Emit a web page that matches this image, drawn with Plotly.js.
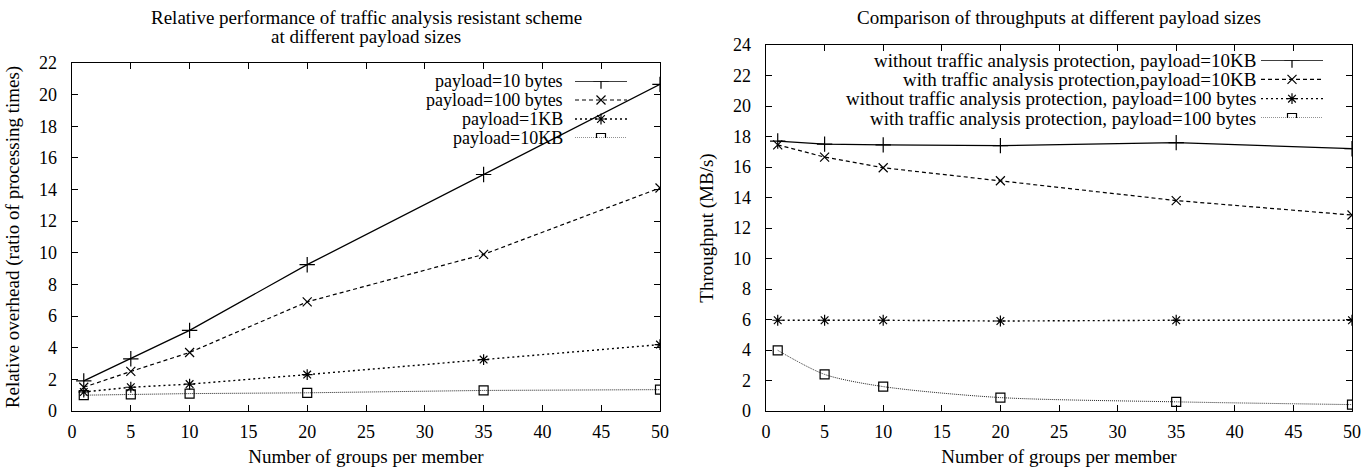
<!DOCTYPE html>
<html>
<head>
<meta charset="utf-8">
<script src="https://cdn.plot.ly/plotly-3.0.1.min.js"></script>
<style>html,body{margin:0;padding:0;background:#fff;}#chart{width:1369px;height:469px;}</style>
</head>
<body>
<div id="chart"></div>
<script>
// ---- data ----
const groupsPerMember = [1, 5, 10, 20, 35, 50];

// left chart: relative overhead (ratio of processing times)
const overhead10B  = [1.9, 3.3, 5.1, 9.25, 14.95, 20.65];
const overhead100B = [1.5, 2.5, 3.7, 6.9, 9.9, 14.1];
const overhead1KB  = [1.2, 1.5, 1.7, 2.3, 3.25, 4.2];
const overhead10KB = [1.0, 1.05, 1.1, 1.15, 1.3, 1.35];
const leftNames = ["payload=10 bytes", "payload=100 bytes", "payload=1KB", "payload=10KB"];

// right chart: throughput (MB/s)
const thrNoProt10KB = [17.7, 17.5, 17.45, 17.4, 17.6, 17.2];
const thrProt10KB   = [17.45, 16.65, 15.95, 15.1, 13.8, 12.85];
const thrNoProt100B = [5.95, 5.95, 5.95, 5.9, 5.95, 5.95];
const thrProt100B   = [3.98, 2.4, 1.6, 0.88, 0.6, 0.42];
const rightNames = [
  "without traffic analysis protection, payload=10KB",
  "with traffic analysis protection,payload=10KB",
  "without traffic analysis protection, payload=100 bytes",
  "with traffic analysis protection, payload=100 bytes"
];

const xTickVals = [0, 5, 10, 15, 20, 25, 30, 35, 40, 45, 50];

const FONT = '"Liberation Serif", "Times New Roman", serif';
const styles = [
  {dash: 'solid',   width: 1.3, color: '#000', symbol: 'cross-thin-open', size: 11},
  {dash: '4px,3px', width: 1.2, color: '#000', symbol: 'x-thin-open',     size: 9},
  {dash: '2px,3px', width: 1.4, color: '#000', symbol: 'asterisk-open',   size: 9},
  {dash: '1px,1px', width: 1.0, color: '#222', symbol: 'square-open',     size: 9}
];

function mk(y, name, s, xa, ya, shape) {
  return {
    x: groupsPerMember, y: y, name: name, type: 'scatter', mode: 'lines+markers',
    xaxis: xa, yaxis: ya, showlegend: false, hoverinfo: 'skip',
    line: {color: s.color, width: s.width, dash: s.dash, shape: shape || 'linear', smoothing: 0.8},
    marker: {symbol: s.symbol, size: s.size, color: '#000', line: {color: '#000', width: 1.2}}
  };
}

// key samples (gnuplot-style key: text right-aligned, sample on the right)
function keyLine(i, s, xa, ya) {
  return {
    x: [0, 1], y: [i, i], type: 'scatter', mode: 'lines',
    xaxis: xa, yaxis: ya, showlegend: false, hoverinfo: 'skip',
    line: {color: s.color, width: s.width, dash: s.dash}
  };
}
function keyMarker(i, s, xa, ya) {
  return {
    x: [0.5], y: [i], type: 'scatter', mode: 'markers',
    xaxis: xa, yaxis: ya, showlegend: false, hoverinfo: 'skip',
    marker: {symbol: s.symbol, size: s.size, color: '#000', line: {color: '#000', width: 1.2}}
  };
}

const traces = [
  mk(overhead10B,  leftNames[0], styles[0], 'x', 'y'),
  mk(overhead100B, leftNames[1], styles[1], 'x', 'y'),
  mk(overhead1KB,  leftNames[2], styles[2], 'x', 'y'),
  mk(overhead10KB, leftNames[3], styles[3], 'x', 'y'),
  mk(thrNoProt10KB, rightNames[0], styles[0], 'x2', 'y2'),
  mk(thrProt10KB,   rightNames[1], styles[1], 'x2', 'y2'),
  mk(thrNoProt100B, rightNames[2], styles[2], 'x2', 'y2'),
  mk(thrProt100B,   rightNames[3], styles[3], 'x2', 'y2', 'spline')
];
leftNames.forEach((n, i) => { traces.push(keyLine(i, styles[i], 'x3', 'y3')); traces.push(keyMarker(i, styles[i], 'x3', 'y3')); });
rightNames.forEach((n, i) => { traces.push(keyLine(i, styles[i], 'x4', 'y4')); traces.push(keyMarker(i, styles[i], 'x4', 'y4')); });

const W = 1369, H = 469;
function px(x) { return x / W; }
function py(y) { return (H - y) / H; }

const axisCommon = {
  showline: true, linecolor: '#000', linewidth: 1.4, mirror: 'allticks',
  ticks: 'inside', ticklen: 6, tickwidth: 1, tickcolor: '#000',
  showgrid: false, zeroline: false,
  tickfont: {family: FONT, size: 18, color: '#000'}
};
const hiddenAxis = {visible: false, showgrid: false, zeroline: false, fixedrange: true};

const layout = {
  width: W, height: H,
  margin: {l: 0, r: 0, t: 0, b: 0},
  paper_bgcolor: '#fff', plot_bgcolor: 'rgba(0,0,0,0)',
  font: {family: FONT, size: 19, color: '#000'},
  showlegend: false,
  xaxis: Object.assign({}, axisCommon, {
    domain: [px(72), px(660)], range: [0, 50], tickvals: xTickVals, anchor: 'y',
    ticklabelstandoff: 4,
    title: {text: 'Number of groups per member', font: {family: FONT, size: 19}, standoff: 8}
  }),
  yaxis: Object.assign({}, axisCommon, {
    domain: [py(411), py(63)], range: [0, 22], dtick: 2, tick0: 0, anchor: 'x',
    ticklabelstandoff: 10,
    title: {text: 'Relative overhead (ratio of processing times)', font: {family: FONT, size: 19}, standoff: 14}
  }),
  xaxis2: Object.assign({}, axisCommon, {
    domain: [px(766), px(1352)], range: [0, 50], tickvals: xTickVals, anchor: 'y2',
    ticklabelstandoff: 4,
    title: {text: 'Number of groups per member', font: {family: FONT, size: 19}, standoff: 8}
  }),
  yaxis2: Object.assign({}, axisCommon, {
    domain: [py(411), py(45)], range: [0, 24], dtick: 2, tick0: 0, anchor: 'x2',
    ticklabelstandoff: 10,
    title: {text: 'Throughput (MB/s)', font: {family: FONT, size: 19}, standoff: 14}
  }),
  xaxis3: Object.assign({}, hiddenAxis, {domain: [px(575), px(627)], range: [0, 1], anchor: 'y3'}),
  yaxis3: Object.assign({}, hiddenAxis, {domain: [py(138), py(81)], range: [3, 0], anchor: 'x3'}),
  xaxis4: Object.assign({}, hiddenAxis, {domain: [px(1261), px(1323)], range: [0, 1], anchor: 'y4'}),
  yaxis4: Object.assign({}, hiddenAxis, {domain: [py(118), py(60)], range: [3, 0], anchor: 'x4'}),
  annotations: []
};

// titles
layout.annotations.push(
  {text: 'Relative performance of traffic analysis resistant scheme',
   xref: 'paper', yref: 'paper', x: px(366), y: py(17), xanchor: 'center', yanchor: 'middle',
   showarrow: false, font: {family: FONT, size: 19, color: '#000'}},
  {text: 'at different payload sizes',
   xref: 'paper', yref: 'paper', x: px(366), y: py(36), xanchor: 'center', yanchor: 'middle',
   showarrow: false, font: {family: FONT, size: 19, color: '#000'}},
  {text: 'Comparison of throughputs at different payload sizes',
   xref: 'paper', yref: 'paper', x: px(1059), y: py(17), xanchor: 'center', yanchor: 'middle',
   showarrow: false, font: {family: FONT, size: 19, color: '#000'}}
);
// key texts, anchored to the key sample rows
leftNames.forEach((n, i) => layout.annotations.push({
  text: n, xref: 'x3', yref: 'y3', x: 0, y: i, xanchor: 'right', yanchor: 'middle', xshift: -10,
  showarrow: false, font: {family: FONT, size: 18, color: '#000'}
}));
rightNames.forEach((n, i) => layout.annotations.push({
  text: n, xref: 'x4', yref: 'y4', x: 0, y: i, xanchor: 'right', yanchor: 'middle', xshift: -3,
  showarrow: false, font: {family: FONT, size: 19, color: '#000'}
}));

Plotly.newPlot('chart', traces, layout, {displayModeBar: false, staticPlot: true});
</script>
</body>
</html>
